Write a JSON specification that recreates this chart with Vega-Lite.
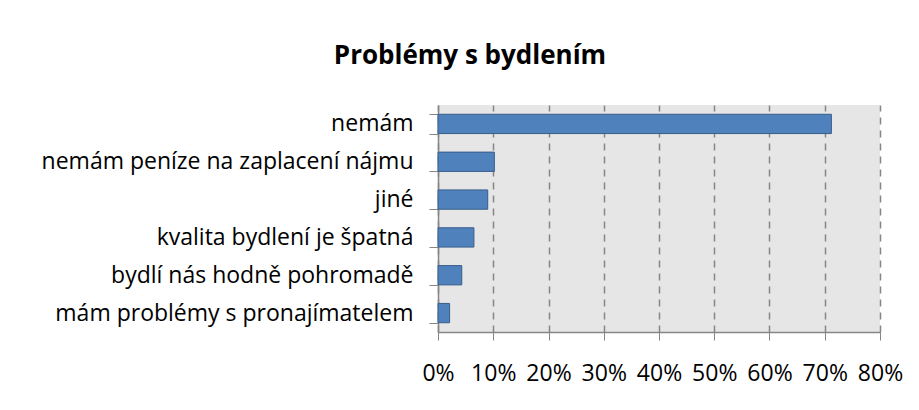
{
  "$schema": "https://vega.github.io/schema/vega-lite/v6.json",
  "autosize": {"type": "none"},
  "padding": {"left": 438, "top": 105, "right": 39, "bottom": 78},
  "width": 442,
  "height": 227,
  "background": "white",
  "title": {
    "text": "Problémy s bydlením",
    "font": "Open Sans",
    "fontSize": 26,
    "fontWeight": "bold",
    "color": "#000000",
    "anchor": "middle",
    "frame": "group",
    "dx": -189,
    "baseline": "alphabetic",
    "offset": 4
  },
  "data": {
    "values": [
      {"problem": "nemám", "share": 0.712},
      {"problem": "nemám peníze na zaplacení nájmu", "share": 0.102},
      {"problem": "jiné", "share": 0.090},
      {"problem": "kvalita bydlení je špatná", "share": 0.065},
      {"problem": "bydlí nás hodně pohromadě", "share": 0.043},
      {"problem": "mám problémy s pronajímatelem", "share": 0.021}
    ]
  },
  "mark": {"type": "bar", "fill": "#4F81BD", "stroke": "#385D8A", "strokeWidth": 1},
  "encoding": {
    "y": {
      "field": "problem",
      "type": "nominal",
      "sort": null,
      "scale": {"paddingInner": 0.49, "paddingOuter": 0.245},
      "axis": {
        "title": null,
        "tickBand": "extent",
        "tickSize": 9,
        "tickColor": "#868686",
        "domainColor": "#868686",
        "domainWidth": 1.5,
        "labelFont": "Open Sans",
        "labelFontSize": 23,
        "labelColor": "#000000",
        "labelPadding": 16,
        "labelLimit": 500,
        "labelOverlap": false,
        "grid": false
      }
    },
    "x": {
      "field": "share",
      "type": "quantitative",
      "scale": {"domain": [0, 0.8], "nice": false},
      "axis": {
        "title": null,
        "values": [0, 0.1, 0.2, 0.3, 0.4, 0.5, 0.6, 0.7, 0.8],
        "format": ".0%",
        "tickSize": 8,
        "tickColor": "#868686",
        "domainColor": "#868686",
        "domainWidth": 1.5,
        "labelFont": "Open Sans",
        "labelFontSize": 23,
        "labelColor": "#000000",
        "labelPadding": 22,
        "labelBaseline": "top",
        "labelOverlap": false,
        "labelFlush": false,
        "grid": true,
        "gridColor": "#868686",
        "gridDash": [7, 6],
        "gridWidth": 1.5
      }
    }
  },
  "config": {
    "view": {"fill": "#E6E6E6", "stroke": null}
  }
}
